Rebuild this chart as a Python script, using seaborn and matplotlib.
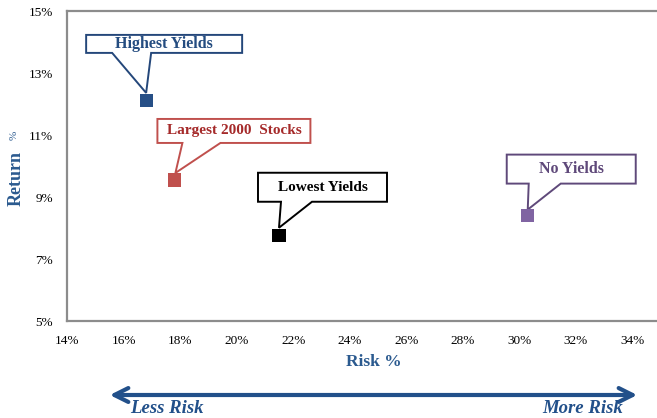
import matplotlib
matplotlib.use("Agg")
import matplotlib.pyplot as plt
import matplotlib.transforms as mtransforms
from matplotlib.patches import Polygon, FancyArrowPatch
import pandas as pd
import seaborn as sns

# Data
portfolios = ["Highest Yields", "Largest 2000  Stocks", "Lowest Yields", "No Yields"]
risk = [16.8, 17.8, 21.5, 30.3]
ret = [12.1, 9.55, 7.75, 8.4]

x_ticks = [14, 16, 18, 20, 22, 24, 26, 28, 30, 32, 34]
y_ticks = [5, 7, 9, 11, 13, 15]

marker_colors = ["#264F86", "#C0504D", "#000000", "#8064A2"]
text_colors = ["#244C80", "#A52A2A", "#000000", "#5F497A"]
edge_colors = ["#24477A", "#C0504D", "#000000", "#5F497A"]
label_sizes = [11.5, 11, 11, 11.5]

# callout shapes in pixel offsets from the marker (x right, y down):
# box left, right, top, bottom, pointer x1, pointer x2, tip x, tip y
callouts = {
    "Highest Yields": (-60, 96, -66, -48, -34, 5, 0, -8),
    "Largest 2000  Stocks": (-17, 136, -61, -37, 8, 46, 1, -7),
    "Lowest Yields": (-21, 108, -63, -34, 2, 33, 0, -8),
    "No Yields": (-21, 108, -61, -32, 1, 33, 0, -6),
}

df = pd.DataFrame({"Portfolio": portfolios, "Risk": risk, "Return": ret})

sns.set_style("white")
plt.rcParams["font.family"] = ["Liberation Serif", "DejaVu Serif"]

fig = plt.figure(figsize=(6.57, 4.18), dpi=100)
ax = fig.add_axes([67 / 657, 1 - 321 / 418, 1 - 67 / 657 - 0.001, 310 / 418])

sns.scatterplot(data=df, x="Risk", y="Return", hue="Portfolio",
                palette=marker_colors, marker="s", s=90, linewidth=0,
                legend=False, ax=ax, zorder=5)

ax.set_xlim(14, 34.85)
ax.set_ylim(5, 15)
ax.set_xticks(x_ticks)
ax.set_yticks(y_ticks)
ax.set_xticklabels([f"{t}%" for t in x_ticks])
ax.set_yticklabels([f"{t}%" for t in y_ticks])
ax.tick_params(axis="both", length=0, labelsize=9.5, colors="#000000")
ax.tick_params(axis="x", pad=10)
ax.tick_params(axis="y", pad=10)
ax.set_xlabel("")
ax.set_ylabel("")

for side in ["left", "bottom", "top"]:
    ax.spines[side].set_color("#8c8c8c")
    ax.spines[side].set_linewidth(1.6)
ax.spines["right"].set_visible(False)

# callout boxes
for i, name in enumerate(portfolios):
    L, R, T, B, p1, p2, tx, ty = callouts[name]
    verts = [(L, T), (R, T), (R, B), (p2, B), (tx, ty), (p1, B), (L, B)]
    verts = [(vx / 100, -vy / 100) for vx, vy in verts]
    trans = fig.dpi_scale_trans + mtransforms.ScaledTranslation(risk[i], ret[i], ax.transData)
    poly = Polygon(verts, closed=True, facecolor="white", edgecolor=edge_colors[i],
                   linewidth=1.4, transform=trans, clip_on=False, zorder=4)
    ax.add_patch(poly)
    ax.text((L + R) / 200, -(T + B) / 200, name, transform=trans, ha="center",
            va="center", fontsize=label_sizes[i], fontweight="bold",
            color=text_colors[i], zorder=6)

label_blue = "#2B5A8F"
fig.text(374 / 657, 1 - 362 / 418, "Risk %", ha="center", va="center",
         fontsize=12.5, fontweight="bold", color=label_blue)
fig.text(16 / 657, 1 - 179 / 418, "Return", ha="center", va="center", rotation=90,
         fontsize=13, fontweight="bold", color=label_blue)
fig.text(14 / 657, 1 - 135 / 418, "%", ha="center", va="center", rotation=90,
         fontsize=8, color=label_blue)

# risk arrow under the chart
arrow_blue = "#22508A"
arrow = FancyArrowPatch((107 / 657, 1 - 395 / 418), (640 / 657, 1 - 395 / 418),
                        transform=fig.transFigure,
                        arrowstyle="<->,head_length=0.5,head_width=0.25",
                        color=arrow_blue, linewidth=3, mutation_scale=20)
fig.patches.append(arrow)
fig.text(167 / 657, 1 - 400 / 418, "Less Risk", ha="center", va="top",
         fontsize=13.5, fontweight="bold", fontstyle="italic", color=arrow_blue)
fig.text(583 / 657, 1 - 400 / 418, "More Risk", ha="center", va="top",
         fontsize=13.5, fontweight="bold", fontstyle="italic", color=arrow_blue)

fig.savefig("out.png", dpi=100)
